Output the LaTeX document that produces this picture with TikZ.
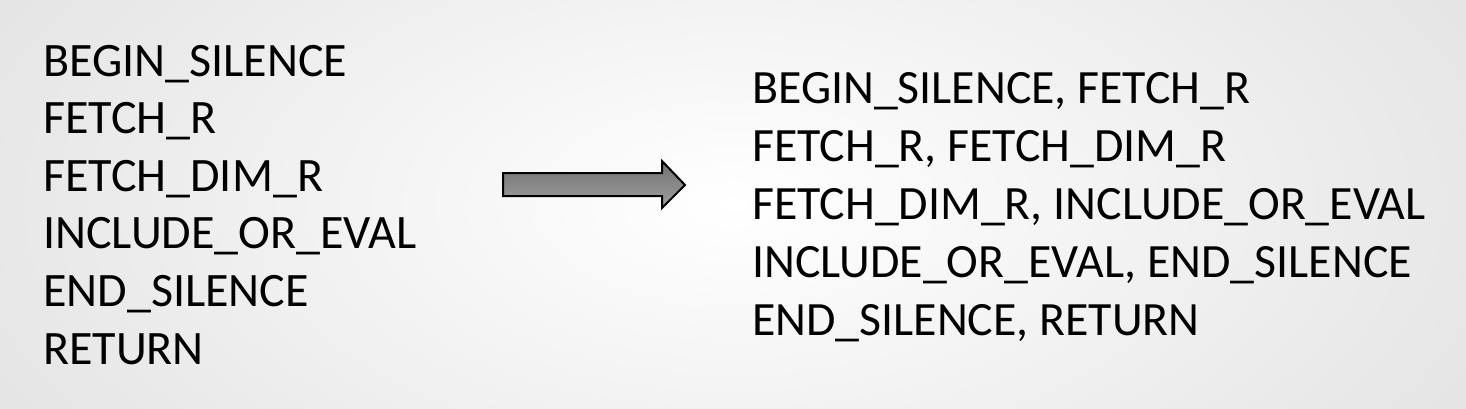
\documentclass[tikz,border=0pt]{standalone}
\usepackage{fontspec}
\setmainfont{Carlito}
\begin{document}
\begin{tikzpicture}[x=1pt,y=-1pt,
  ltxt/.style={anchor=base west,inner sep=0pt,font=\fontsize{48}{48}\selectfont},
  rtxt/.style={anchor=base west,inner sep=0pt,font=\fontsize{47.8}{48}\selectfont}]
\useasboundingbox (0,0) rectangle (1466,408);
\shade[inner color=white,outer color=black!11] (-150,-250) rectangle (1616,658);
% left column
\node[ltxt] (l1) at (43,76) {BEGIN\_SILENCE};
\node[ltxt] (l2) at (43,133.6) {FETCH\_R};
\node[ltxt] (l3) at (43,191.2) {FETCH\_DIM\_R};
\node[ltxt] (l4) at (43,248.8) {INCLUDE\_OR\_EVAL};
\node[ltxt] (l5) at (43,306.4) {END\_SILENCE};
\node[ltxt] (l6) at (43,364) {RETURN};
% right column
\node[rtxt] (r1) at (752,103) {BEGIN\_SILENCE, FETCH\_R};
\node[rtxt] (r2) at (752,161) {FETCH\_R, FETCH\_DIM\_R};
\node[rtxt] (r3) at (752,219) {FETCH\_DIM\_R, INCLUDE\_OR\_EVAL};
\node[rtxt] (r4) at (752,277) {INCLUDE\_OR\_EVAL, END\_SILENCE};
\node[rtxt] (r5) at (752,335) {END\_SILENCE, RETURN};
% arrow
\draw[line width=2pt,line join=miter,top color=black!55,bottom color=black!38]
  (503,173) -- (662,173) -- (662,161) -- (685,185) -- (662,208) -- (662,196) -- (503,196) -- cycle;
\end{tikzpicture}
\end{document}
